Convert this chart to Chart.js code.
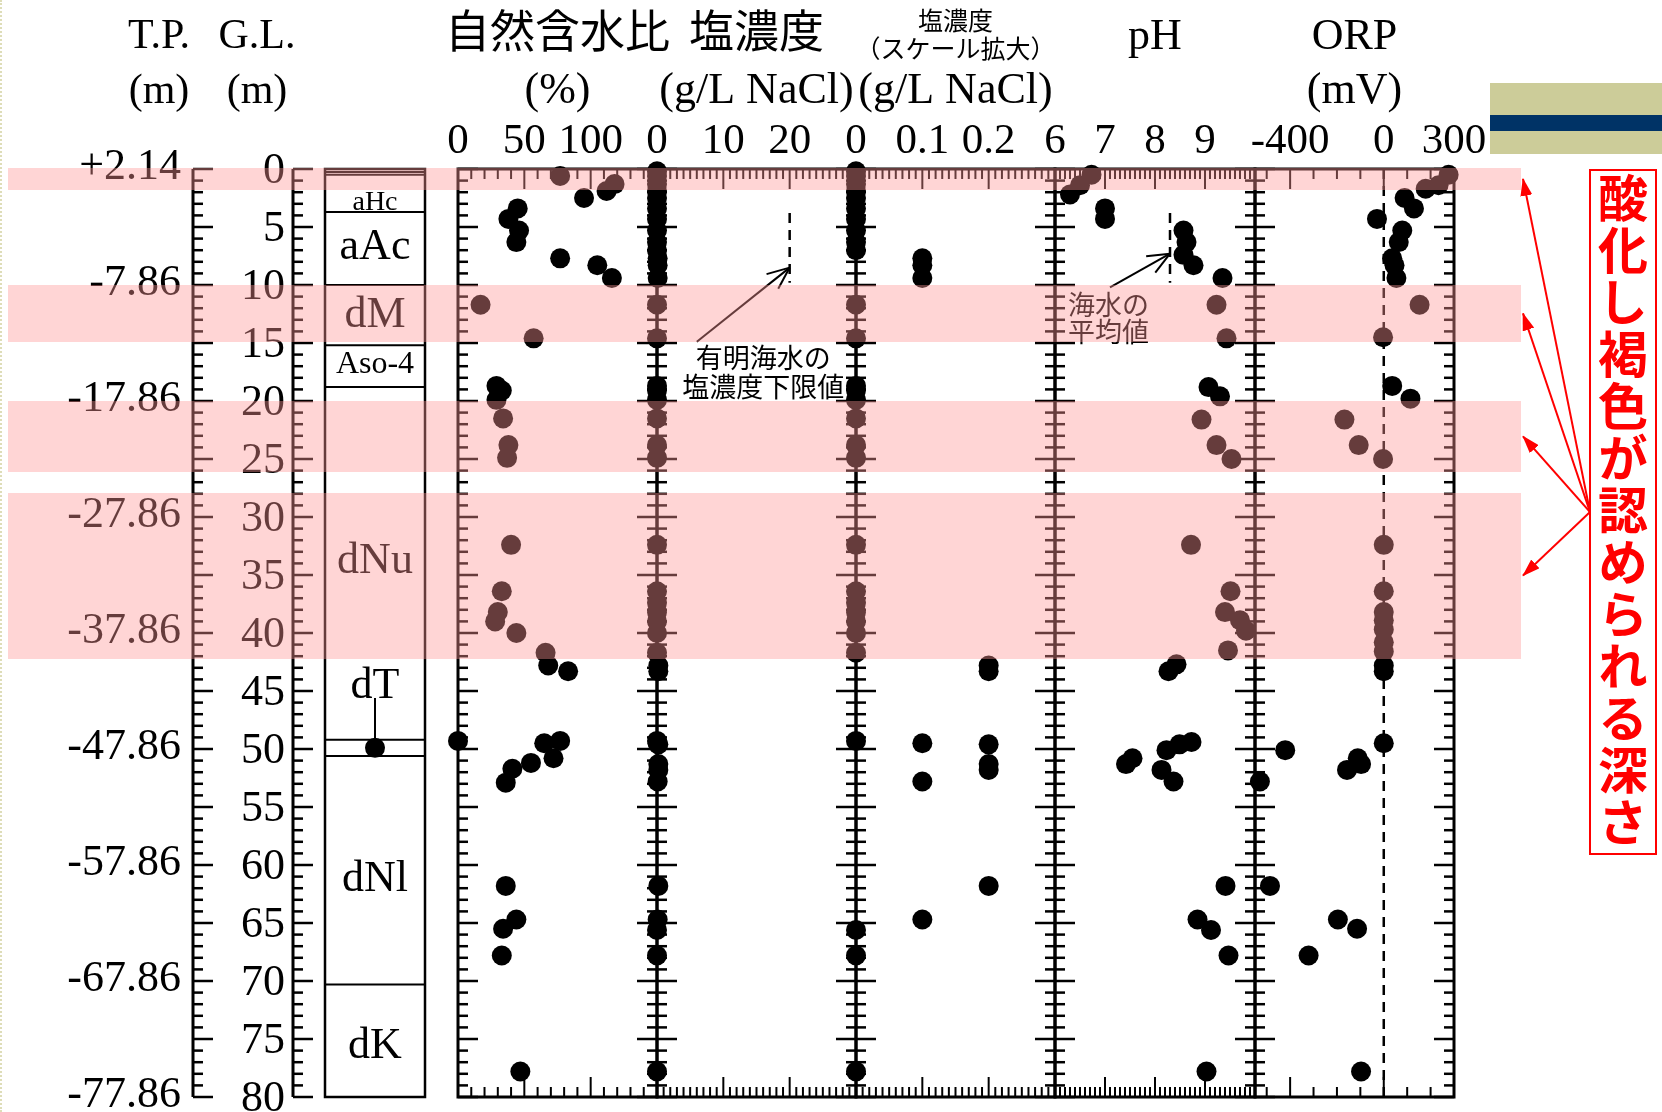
<!DOCTYPE html>
<html lang="ja">
<head>
<meta charset="utf-8">
<title>深度分布</title>
<script src="https://cdn.jsdelivr.net/npm/chart.js@4.4.1/dist/chart.umd.min.js"></script>
<style>
  html, body { margin: 0; padding: 0; background: #fff; }
  #page { position: relative; width: 1662px; height: 1112px; overflow: hidden; background: #fff; }
  #page canvas, #page svg { position: absolute; left: 0; top: 0; }
  .band { position: absolute; background: rgba(255, 150, 150, 0.4); }
  #deco { position: absolute; left: 1490px; top: 83px; width: 172px; height: 71px; background: #cccc99; }
  #deco div { position: absolute; left: 0; right: 0; top: 32px; height: 16px; background: #003366; }
  #note {
    position: absolute; left: 1589px; top: 169px; width: 64px; height: 680px; padding-top: 2px;
    border: 2px solid #f00; color: #f00; font: bold 50px "Noto Sans CJK JP", sans-serif;
    writing-mode: vertical-rl; text-orientation: upright; line-height: 64px; letter-spacing: 2px;
  }
  #edge { position: absolute; left: 0; top: 0; height: 1112px; border-left: 2px dotted #deddb8; }
</style>
</head>
<body>
<div id="page">
  <canvas id="depthChart" width="1662" height="1112"></canvas>
  <canvas id="waterChart" width="1662" height="1112"></canvas>
  <canvas id="saltChart" width="1662" height="1112"></canvas>
  <canvas id="saltZoomChart" width="1662" height="1112"></canvas>
  <canvas id="phChart" width="1662" height="1112"></canvas>
  <canvas id="orpChart" width="1662" height="1112"></canvas>
  <div id="bands"></div>
  <svg id="arrows" width="1662" height="1112">
    <defs>
      <marker id="head" markerWidth="18" markerHeight="12" refX="17" refY="6" orient="auto" markerUnits="userSpaceOnUse">
        <path d="M0,0 L18,6 L0,12 z" fill="#f00"></path>
      </marker>
    </defs>
  </svg>
  <div id="note">酸化し褐色が認められる深さ</div>
  <div id="deco"><div></div></div>
  <div id="edge"></div>
</div>
<script>
// ---- depth axis / boring log ----
const TP_TOP = 2.14;                       // ground level elevation (T.P. m)
const logBoundaries = [0, 0.25, 0.5, 3.7, 10.0, 15.2, 18.8, 49.2, 50.6, 70.3, 80];
const logNames = ['aHc', 'aAc', 'dM', 'Aso-4', 'dNu', 'dT', 'dNl', 'dK'];
const logNameDepth = [3.5, 7.8, 13.6, 17.6, 34.8, 45.6, 62.2, 76.6];
const logNameSize = [28, 44, 44, 32, 44, 44, 44, 44];
const pinDepth = 49.9, pinTop = 45.6;

// brown oxidised zones (G.L. m)
const bandTop = [-0.1, 10.0, 20.0, 27.9];
const bandBottom = [1.8, 14.9, 26.1, 42.2];

// ---- natural water content (%) ----
const waterDepth = [0.6, 1.3, 1.9, 2.5, 3.4, 4.3, 5.3, 6.3, 7.7, 8.3, 9.4, 11.7, 14.6, 18.7, 19.1, 19.9,
  21.5, 23.8, 24.9, 32.4, 36.4, 38.2, 39.0, 40.0, 41.7, 42.8, 43.3, 49.3, 49.5, 49.3, 50.8, 51.2, 51.7,
  52.9, 61.8, 64.7, 65.5, 67.8, 77.8];
const waterValue = [77, 118, 112, 95, 45, 38, 46, 44, 77, 105, 116, 17, 57, 29, 33, 29,
  34, 38, 37, 40, 33, 30, 28, 44, 66, 68, 83, 0, 65, 77, 72, 55, 41,
  36, 36, 44, 34, 33, 47];
const waterTicks = [0, 50, 100];

// ---- salt concentration (g/L NaCl) ----
const saltDepth = [0.2, 0.6, 1.3, 1.9, 2.5, 3.4, 4.3, 5.3, 6.3, 7.0, 7.7, 8.3, 9.4, 11.7, 14.6, 18.7, 19.1,
  19.9, 21.5, 23.8, 24.9, 32.4, 36.4, 37.4, 38.2, 39.0, 40.0, 41.7, 42.8, 43.3, 49.3, 49.5, 49.6,
  51.3, 51.8, 52.8, 61.8, 64.7, 65.6, 67.8, 77.8];
const saltValue = [0, 0, 0, 0, 0, 0, 0, 0, 0, 0, 0.1, 0.1, 0.1, 0, 0, 0, 0,
  0, 0, 0, 0, 0, 0, 0, 0, 0, 0, 0, 0.2, 0.2, 0, 0.1, 0.2,
  0.2, 0.2, 0.1, 0.2, 0.1, 0, 0, 0];
const saltTicks = [0, 10, 20];
const saltZoomTicks = [0, 0.1, 0.2];
const saltLimit = 20;                      // lower bound for Ariake seawater
const seaPh = 8.3;                         // mean seawater pH
const refTop = 3.8, refBottom = 9.8;

// ---- pH ----
const phDepth = [0.5, 1.4, 2.2, 3.4, 4.3, 5.3, 6.3, 7.4, 8.3, 9.4, 11.7, 14.6, 18.8, 19.6, 21.6, 23.8,
  25.0, 32.4, 36.4, 38.2, 38.9, 39.8, 41.5, 42.7, 43.3, 49.4, 49.6, 50.1, 50.8, 51.3, 51.8, 52.8,
  61.8, 64.7, 65.6, 67.8, 77.8];
const phValue = [6.73, 6.5, 6.3, 7.0, 7.0, 8.57, 8.63, 8.57, 8.77, 9.35, 9.23, 9.43, 9.07, 9.3, 8.93, 9.23,
  9.53, 8.72, 9.51, 9.4, 9.7, 9.82, 9.46, 8.43, 8.27, 8.73, 8.49, 8.23, 7.55, 7.42, 8.13, 8.37,
  9.41, 8.85, 9.12, 9.47, 9.03];
const phTicks = [6, 7, 8, 9];

// ---- ORP (mV) ----
const orpDepth = [0.5, 1.4, 1.7, 2.5, 3.4, 4.3, 5.3, 6.3, 7.7, 8.3, 9.4, 11.7, 14.5, 18.7, 19.8, 21.6,
  23.8, 25.0, 32.4, 36.4, 38.2, 38.9, 39.7, 40.8, 41.6, 42.8, 43.3, 49.5, 50.1, 50.8, 51.3, 51.8,
  52.8, 61.8, 64.7, 65.5, 67.8, 77.8];
const orpValue = [277, 234, 179, 89, 129, -29, 79, 64, 36, 46, 54, 153, -3, 36, 114, -168,
  -107, -3, 0, 0, 0, 0, 0, 0, 0, 0, 0, 0, -421, -111, -97, -157,
  -529, -486, -196, -114, -321, -97];
const orpTicks = [-400, 0, 300];

const W = 1662, H = 1112, TOP = 169, BOTTOM = 1097;
const SERIF = '"Liberation Serif", "Times New Roman", serif';
const GOTHIC = '"Noto Sans CJK JP", sans-serif';

function seg(ctx, x1, y1, x2, y2) {
  ctx.beginPath(); ctx.moveTo(x1, y1); ctx.lineTo(x2, y2); ctx.stroke();
}

function openArrow(ctx, x1, y1, x2, y2, len) {
  seg(ctx, x1, y1, x2, y2);
  const a = Math.atan2(y2 - y1, x2 - x1);
  [-0.4, 0.4].forEach(da => seg(ctx, x2, y2, x2 - len * Math.cos(a + da), y2 - len * Math.sin(a + da)));
}

function depthTicks(ctx, y, x, dir) {
  for (let d = 0; d <= 80; d++) {
    const py = y.getPixelForValue(d);
    seg(ctx, x, py, x + dir * (d % 5 === 0 ? 20 : 10), py);
  }
}

// frame, inward ticks, tick labels, titles and notes of a data panel
const panelFrame = {
  id: 'panelFrame',
  beforeDatasetsDraw(chart, args, o) {
    const { ctx, chartArea: a, scales: { x, y } } = chart;
    ctx.save();
    ctx.strokeStyle = '#000';
    ctx.fillStyle = '#000';
    ctx.lineWidth = 3;
    ctx.strokeRect(a.left, a.top, a.right - a.left, a.bottom - a.top);

    ctx.lineWidth = 2.5;
    depthTicks(ctx, y, a.left, 1);
    depthTicks(ctx, y, a.right, -1);

    ctx.lineWidth = 2;
    const n = Math.round((o.to - o.from) / o.step);
    for (let i = 0; i <= n; i++) {
      const v = o.from + i * o.step;
      const r = v / o.major;
      const len = Math.abs(r - Math.round(r)) < 1e-6 ? 20 : 10;
      const px = x.getPixelForValue(v);
      seg(ctx, px, a.top, px, a.top + len);
      seg(ctx, px, a.bottom, px, a.bottom - len);
    }

    ctx.textAlign = 'center';
    ctx.textBaseline = 'alphabetic';
    ctx.font = '43px ' + SERIF;
    o.labels.forEach(v => ctx.fillText(String(v), x.getPixelForValue(v), 153));

    const cx = (a.left + a.right) / 2;
    o.titles.forEach(t => {
      ctx.font = t.font;
      ctx.fillText(t.text, cx, t.y);
    });

    if (o.note) {
      const nt = o.note;
      ctx.font = nt.font;
      ctx.textAlign = nt.align;
      ctx.textBaseline = 'middle';
      nt.lines.forEach((s, i) => ctx.fillText(s, x.getPixelForValue(nt.x), y.getPixelForValue(nt.y[i])));
      ctx.lineWidth = 2;
      openArrow(ctx, x.getPixelForValue(nt.from[0]), y.getPixelForValue(nt.from[1]),
        x.getPixelForValue(nt.to[0]), y.getPixelForValue(nt.to[1]), 24);
    }
    ctx.restore();
  }
};

// T.P. / G.L. depth axes and the boring log column
const logColumn = {
  id: 'logColumn',
  beforeDatasetsDraw(chart) {
    const { ctx, chartArea: a, scales: { y } } = chart;
    const tpX = a.left - 132, glX = a.left - 32;
    ctx.save();
    ctx.strokeStyle = '#000';
    ctx.fillStyle = '#000';
    ctx.lineWidth = 3;
    seg(ctx, tpX, a.top, tpX, a.bottom);
    seg(ctx, glX, a.top, glX, a.bottom);
    ctx.lineWidth = 2.5;
    depthTicks(ctx, y, tpX, 1);
    depthTicks(ctx, y, glX, 1);

    ctx.font = '44px ' + SERIF;
    ctx.textAlign = 'right';
    for (let d = 0; d <= 80; d += 10) {
      const tp = TP_TOP - d;
      const s = (tp > 0 ? '+' : '') + tp.toFixed(2);
      ctx.fillText(s, tpX - 12, y.getPixelForValue(d) + 10);
    }
    for (let d = 0; d <= 80; d += 5) {
      ctx.fillText(String(d), glX - 8, y.getPixelForValue(d) + 14);
    }

    ctx.textAlign = 'center';
    ctx.font = '42px ' + SERIF;
    ctx.fillText('T.P.', tpX - 34, 48);
    ctx.fillText('G.L.', glX - 36, 48);
    ctx.fillText('(m)', tpX - 34, 103);
    ctx.fillText('(m)', glX - 36, 103);

    ctx.lineWidth = 2.5;
    ctx.strokeRect(a.left, a.top, a.right - a.left, a.bottom - a.top);
    ctx.lineWidth = 2;
    logBoundaries.forEach(d => {
      const py = y.getPixelForValue(d);
      seg(ctx, a.left, py, a.right, py);
    });
    const cx = (a.left + a.right) / 2;
    logNames.forEach((s, i) => {
      ctx.font = logNameSize[i] + 'px ' + SERIF;
      ctx.fillText(s, cx, y.getPixelForValue(logNameDepth[i]));
    });
    ctx.restore();
  }
};

function points(depths, values) {
  return {
    data: depths.map((d, i) => ({ x: values[i], y: d })),
    pointRadius: 10,
    pointBackgroundColor: '#000',
    pointBorderColor: '#000',
    pointBorderWidth: 0,
    clip: false,
    order: 0
  };
}

function dashed(x, d1, d2) {
  return {
    data: [{ x: x, y: d1 }, { x: x, y: d2 }],
    showLine: true,
    borderColor: '#000',
    borderWidth: 2.5,
    borderDash: [10, 7],
    pointRadius: 0,
    order: 1
  };
}

function makeChart(id, left, right, xMin, xMax, datasets, plugin, frameOpts) {
  return new Chart(document.getElementById(id), {
    type: 'scatter',
    data: { datasets: datasets },
    options: {
      responsive: false,
      animation: false,
      devicePixelRatio: 1,
      events: [],
      layout: { autoPadding: false, padding: { left: left, right: W - right, top: TOP, bottom: H - BOTTOM } },
      plugins: { legend: { display: false }, tooltip: { enabled: false }, panelFrame: frameOpts || {} },
      scales: {
        x: { type: 'linear', min: xMin, max: xMax, display: false },
        y: { type: 'linear', min: 0, max: 80, reverse: true, display: false }
      }
    },
    plugins: [plugin]
  });
}

const depthChart = makeChart('depthChart', 325, 425, 0, 1, [
  points([pinDepth], [0.5]),
  { data: [{ x: 0.5, y: pinTop }, { x: 0.5, y: pinDepth }], showLine: true, borderColor: '#000', borderWidth: 2, pointRadius: 0 }
], logColumn);

makeChart('waterChart', 458, 657, 0, 150, [points(waterDepth, waterValue)], panelFrame, {
  from: 0, to: 150, step: 10, major: 50, labels: waterTicks,
  titles: [{ text: '自然含水比', font: '45px ' + GOTHIC, y: 48 }, { text: '(%)', font: '44px ' + SERIF, y: 103 }]
});

makeChart('saltChart', 657, 856, 0, 30, [points(saltDepth, saltValue), dashed(saltLimit, refTop, refBottom)], panelFrame, {
  from: 0, to: 30, step: 1, major: 10, labels: saltTicks,
  titles: [{ text: '塩濃度', font: '45px ' + GOTHIC, y: 48 }, { text: '(g/L NaCl)', font: '44px ' + SERIF, y: 103 }],
  note: { lines: ['有明海水の', '塩濃度下限値'], x: 16, y: [16.3, 18.8], font: '27px ' + GOTHIC, align: 'center',
    from: [6, 14.9], to: [saltLimit, 8.5] }
});

makeChart('saltZoomChart', 856, 1055, 0, 0.3, [points(saltDepth, saltValue)], panelFrame, {
  from: 0, to: 0.3, step: 0.01, major: 0.1, labels: saltZoomTicks,
  titles: [{ text: '塩濃度', font: '25px ' + GOTHIC, y: 30 }, { text: '（スケール拡大）', font: '25px ' + GOTHIC, y: 58 },
    { text: '(g/L NaCl)', font: '44px ' + SERIF, y: 103 }]
});

makeChart('phChart', 1055, 1255, 6, 10, [points(phDepth, phValue), dashed(seaPh, refTop, refBottom)], panelFrame, {
  from: 6, to: 10, step: 0.1, major: 1, labels: phTicks,
  titles: [{ text: 'pH', font: '44px ' + SERIF, y: 49 }],
  note: { lines: ['海水の', '平均値'], x: 6.26, y: [11.7, 14.05], font: '27px ' + GOTHIC, align: 'left',
    from: [7.1, 10.2], to: [seaPh, 7.3] }
});

makeChart('orpChart', 1255, 1454, -550, 300, [points(orpDepth, orpValue), dashed(0, 0, 80)], panelFrame, {
  from: -500, to: 300, step: 100, major: 400, labels: orpTicks,
  titles: [{ text: 'ORP', font: '44px ' + SERIF, y: 49 }, { text: '(mV)', font: '44px ' + SERIF, y: 103 }]
});

// oxidised zones shaded across the whole section, with arrows from the note
const yScale = depthChart.scales.y;
const bandBox = document.getElementById('bands');
const svg = document.getElementById('arrows');
const bandLeft = 8, bandRight = 1521;
bandTop.forEach((t, i) => {
  const y1 = yScale.getPixelForValue(t), y2 = yScale.getPixelForValue(bandBottom[i]);
  const div = document.createElement('div');
  div.className = 'band';
  div.style.left = bandLeft + 'px';
  div.style.width = (bandRight - bandLeft) + 'px';
  div.style.top = y1 + 'px';
  div.style.height = (y2 - y1) + 'px';
  bandBox.appendChild(div);

  const ln = document.createElementNS('http://www.w3.org/2000/svg', 'line');
  ln.setAttribute('x1', 1590); ln.setAttribute('y1', 512);
  ln.setAttribute('x2', bandRight + 2); ln.setAttribute('y2', (y1 + y2) / 2);
  ln.setAttribute('stroke', '#f00'); ln.setAttribute('stroke-width', 2);
  ln.setAttribute('marker-end', 'url(#head)');
  svg.appendChild(ln);
});
</script>
</body>
</html>
